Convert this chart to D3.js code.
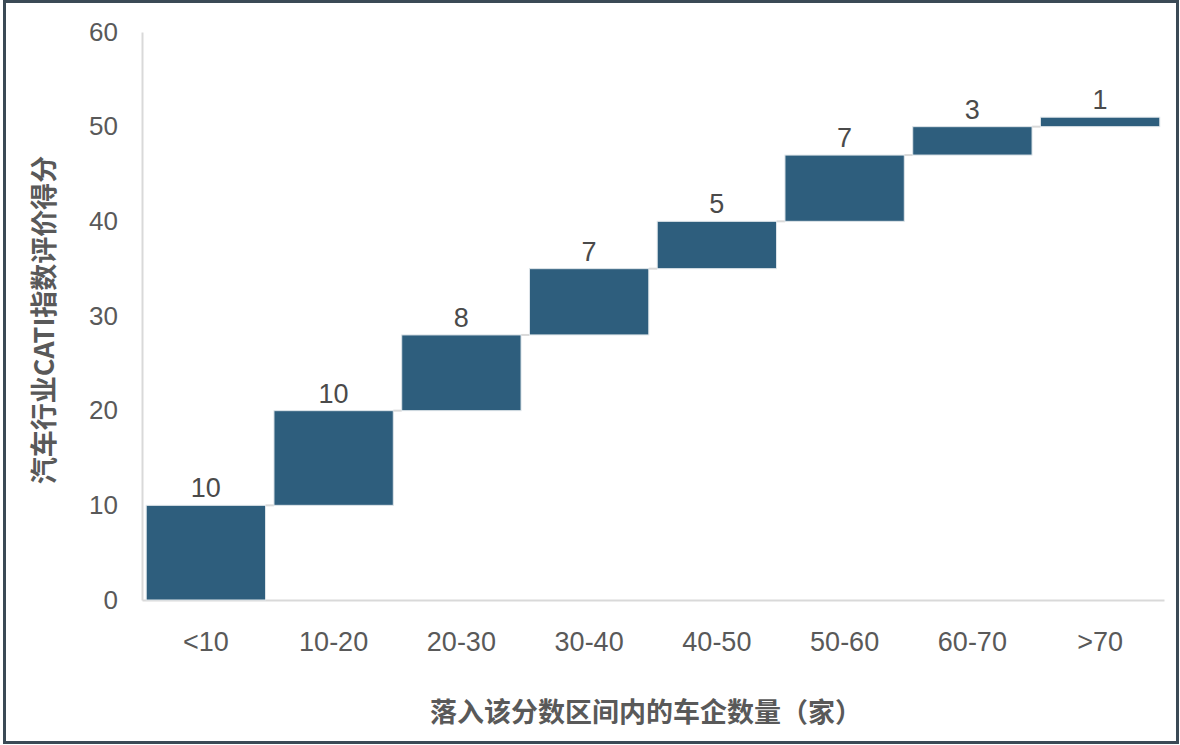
<!DOCTYPE html>
<html lang="zh">
<head>
<meta charset="UTF-8">
<title>汽车行业CATI指数评价得分</title>
<script src="https://d3js.org/d3.v7.min.js"></script>
<style>
    html, body { margin: 0; padding: 0; background: #fff; }
    svg { display: block; font-family: "Liberation Sans", Arial, "Noto Sans CJK SC", sans-serif; }
</style>
</head>
<body>
<svg width="1180" height="745"></svg>
<script>
// data
const categories = ["<10", "10-20", "20-30", "30-40", "40-50", "50-60", "60-70", ">70"];
const counts = [10, 10, 8, 7, 5, 7, 3, 1];
const yTicks = [0, 10, 20, 30, 40, 50, 60];

const W = 1180, H = 745;
const margin = { top: 32, right: 16, bottom: 145, left: 142 };
const innerW = W - margin.left - margin.right;
const innerH = H - margin.top - margin.bottom;

// running totals for the waterfall
let acc = 0;
const rows = categories.map((c, i) => {
    const start = acc;
    acc += counts[i];
    return { cat: c, value: counts[i], start: start, end: acc };
});

const svg = d3.select("svg");

// outer frame
svg.append("rect")
    .attr("x", 4.5).attr("y", 1.5)
    .attr("width", W - 7).attr("height", H - 4)
    .attr("fill", "none")
    .attr("stroke", "#3b4a56")
    .attr("stroke-width", 3);

const g = svg.append("g").attr("transform", `translate(${margin.left},${margin.top})`);

const x = d3.scaleBand().domain(categories).range([0, innerW])
    .paddingInner(0.066).paddingOuter(0.033);
const y = d3.scaleLinear().domain([0, 60]).range([innerH, 0]);

// y axis
const yAxis = g.append("g").call(d3.axisLeft(y).tickValues(yTicks).tickSize(0).tickPadding(24));
yAxis.select(".domain").attr("stroke", "#d9d9d9").attr("stroke-width", 2);
yAxis.selectAll("text").attr("fill", "#595959").style("font-size", "26px");

// x axis
const xAxis = g.append("g").attr("transform", `translate(0,${innerH})`)
    .call(d3.axisBottom(x).tickSize(0).tickPadding(32));
xAxis.select(".domain").attr("stroke", "#d9d9d9").attr("stroke-width", 2);
xAxis.selectAll("text").attr("fill", "#595959").style("font-size", "27px");

// connectors
g.selectAll(".conn")
    .data(rows.slice(0, -1))
    .enter()
    .append("line")
    .attr("x1", d => x(d.cat) + x.bandwidth())
    .attr("x2", (d, i) => x(rows[i + 1].cat))
    .attr("y1", d => y(d.end))
    .attr("y2", d => y(d.end))
    .attr("stroke", "#d9d9d9")
    .attr("stroke-width", 2);

// bars
g.selectAll(".bar")
    .data(rows)
    .enter()
    .append("rect")
    .attr("x", d => x(d.cat))
    .attr("y", d => y(d.end))
    .attr("width", x.bandwidth())
    .attr("height", d => y(d.start) - y(d.end))
    .attr("fill", "#2e5e7d")
    .attr("stroke", "#dfe6ea")
    .attr("stroke-width", 1);

// value labels
g.selectAll(".val")
    .data(rows)
    .enter()
    .append("text")
    .attr("x", d => x(d.cat) + x.bandwidth() / 2)
    .attr("y", d => y(d.end) - 8)
    .attr("text-anchor", "middle")
    .attr("fill", "#4a4a4a")
    .style("font-size", "27px")
    .text(d => d.value);

// axis titles
svg.append("text")
    .attr("transform", `translate(54,${margin.top + innerH / 2 + 4}) rotate(-90)`)
    .attr("text-anchor", "middle")
    .attr("fill", "#595959")
    .style("font-family", "'Noto Sans CJK SC', sans-serif")
    .style("font-weight", "bold")
    .style("font-size", "27px")
    .text("汽车行业CATI指数评价得分");

svg.append("text")
    .attr("x", 646)
    .attr("y", 722)
    .attr("text-anchor", "middle")
    .attr("fill", "#595959")
    .style("font-family", "'Noto Sans CJK SC', sans-serif")
    .style("font-weight", "bold")
    .style("font-size", "27px")
    .text("落入该分数区间内的车企数量（家）");
</script>
</body>
</html>
